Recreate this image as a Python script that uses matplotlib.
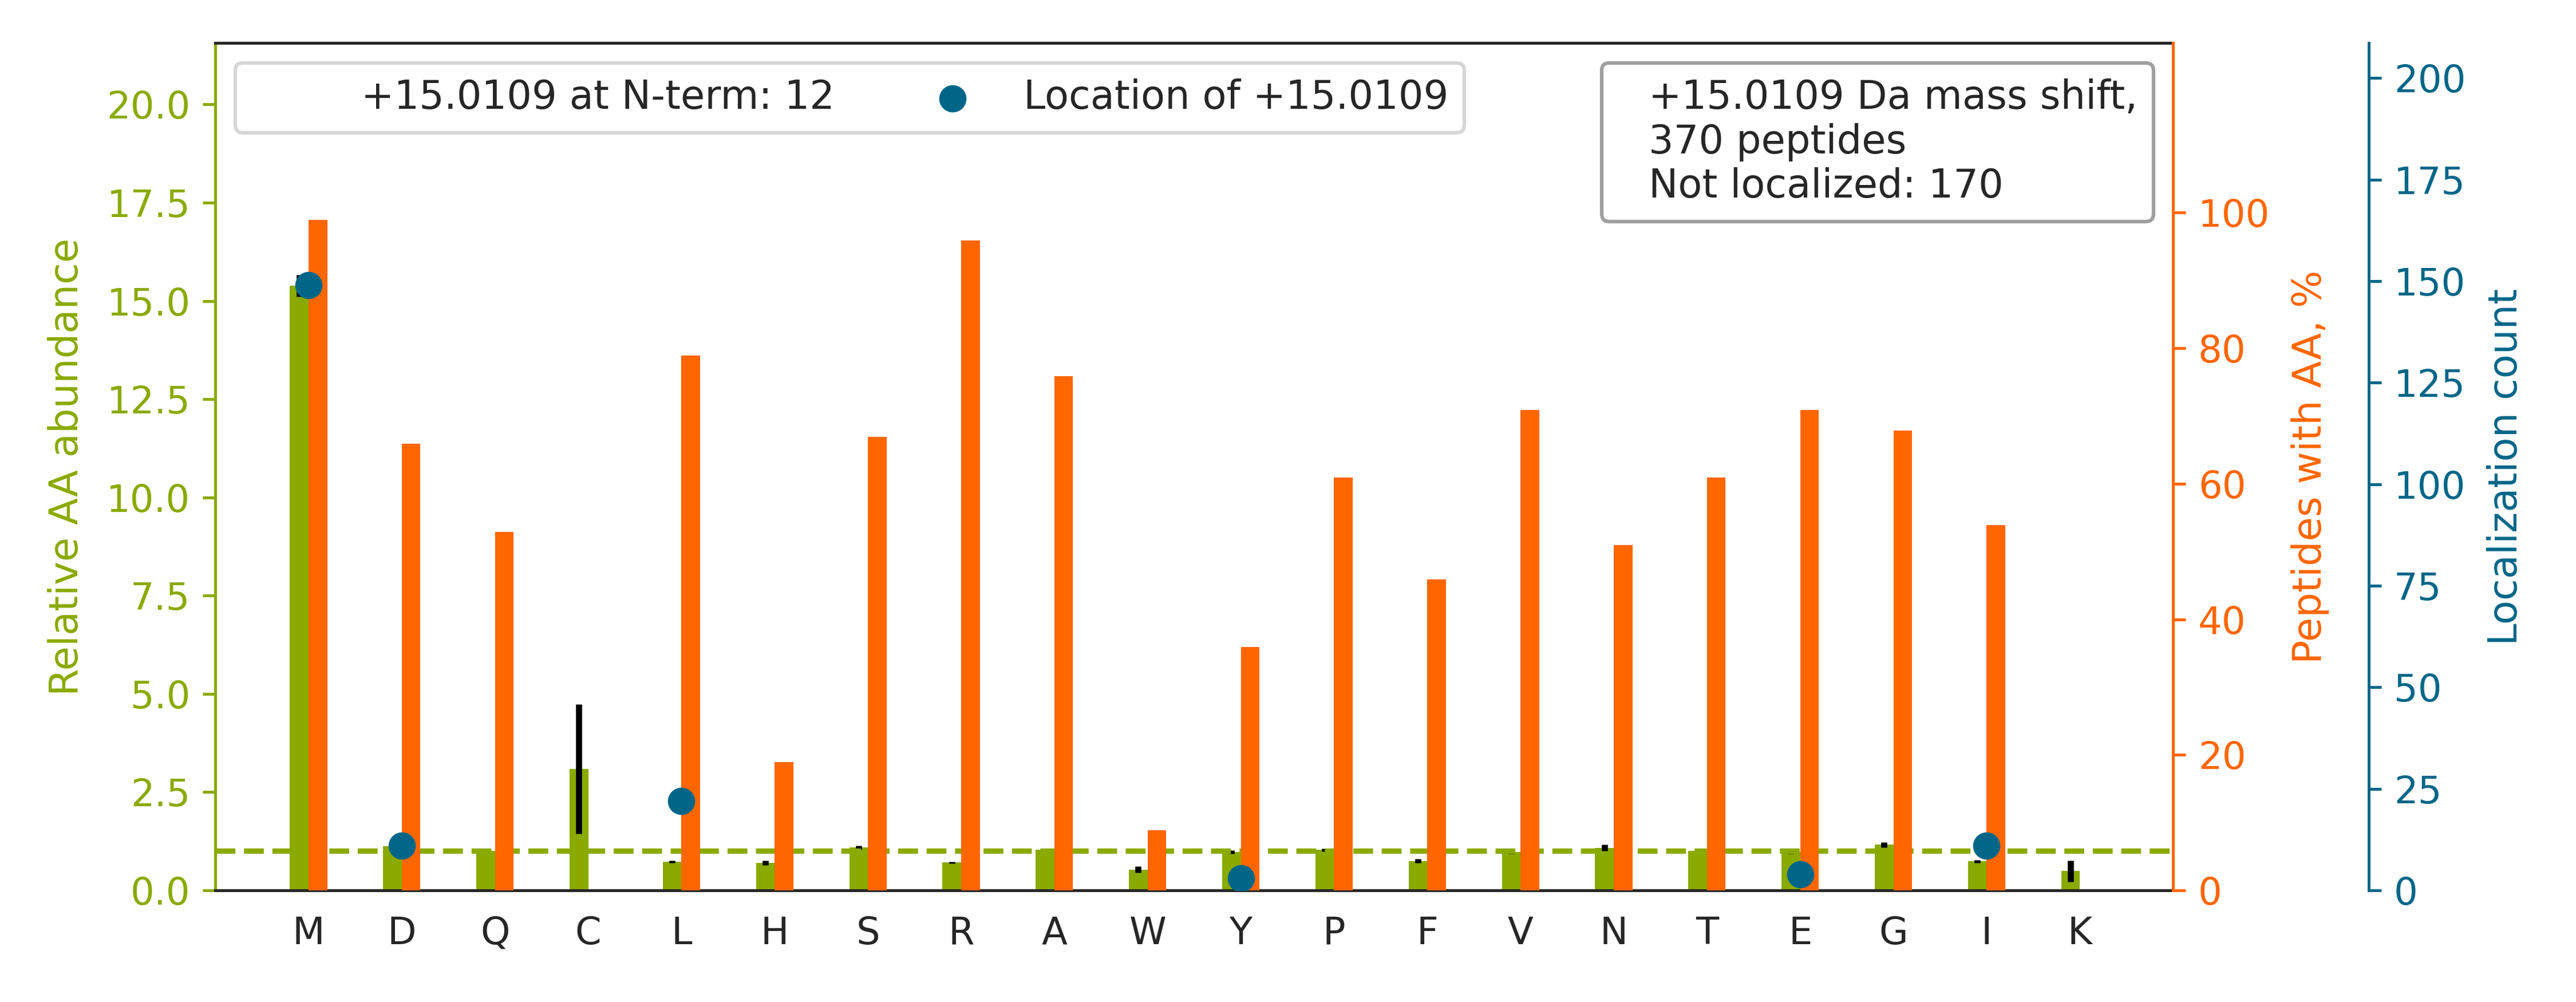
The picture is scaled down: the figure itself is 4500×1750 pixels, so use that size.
import matplotlib
matplotlib.use("Agg")
import matplotlib.pyplot as plt
import numpy as np
from matplotlib.lines import Line2D

# amino acids on the x axis
aa = ["M", "D", "Q", "C", "L", "H", "S", "R", "A", "W",
      "Y", "P", "F", "V", "N", "T", "E", "G", "I", "K"]

# relative AA abundance (green bars) and its error
rel_abund = [15.39, 1.12, 1.01, 3.09, 0.73, 0.70, 1.09, 0.71, 1.04, 0.53,
             0.98, 1.03, 0.75, 0.98, 1.08, 1.00, 0.97, 1.16, 0.74, 0.49]
rel_err = [0.28, 0.04, 0.04, 1.64, 0.03, 0.06, 0.05, 0.02, 0.01, 0.08,
           0.04, 0.04, 0.05, 0.05, 0.08, 0.05, 0.04, 0.06, 0.04, 0.27]

# peptides with AA, % (orange bars)
pept_pct = [98.9, 65.9, 52.9, 0.0, 78.9, 18.9, 66.9, 95.9, 75.9, 8.9,
            35.9, 60.9, 45.9, 70.9, 50.9, 60.9, 70.9, 67.8, 53.9, 0.0]

# localization counts (blue dots)
loc_aa = ["M", "D", "L", "Y", "E", "I"]
loc_counts = [149, 11, 22, 3, 4, 11]

green = "#8aaa00"
orange = "#ff6600"
blue = "#006688"
dark = "#262626"

plt.rcParams["font.family"] = "DejaVu Sans"
plt.rcParams["text.color"] = dark

fig, ax = plt.subplots(figsize=(10, 3.8889), dpi=450)
fig.subplots_adjust(left=0.0836, right=0.8436, bottom=0.1114, top=0.957)
ax2 = ax.twinx()
ax3 = ax.twinx()
ax3.spines["right"].set_position(("axes", 1.1))

x = np.arange(len(aa))

# green bars with error bars
ax.bar(x - 0.1, rel_abund, width=0.2, color=green, yerr=rel_err,
       error_kw=dict(ecolor="black", elinewidth=1.7, capsize=0))
ax.axhline(1, color=green, linestyle="--", linewidth=1.5)

# orange bars
ax2.bar(x + 0.1, pept_pct, width=0.2, color=orange)

# blue dots
loc_x = [aa.index(a) for a in loc_aa]
dots = ax3.scatter(loc_x, loc_counts, s=58, color=blue, linewidths=0, zorder=3)

ax.set_xlim(-1, 20)
ax.set_ylim(0, 21.56)
ax2.set_ylim(0, 125)
ax3.set_ylim(0, 208.6)

ax.set_xticks(x)
ax.set_xticklabels(aa)
ax.tick_params(axis="x", bottom=False, labelsize=10.5, labelcolor=dark)
ax.set_yticks(np.arange(0, 20.1, 2.5))
ax.tick_params(axis="y", colors=green, labelsize=10.5)
ax2.set_yticks(range(0, 101, 20))
ax2.tick_params(axis="y", colors=orange, labelsize=10.5)
ax3.set_yticks(range(0, 201, 25))
ax3.tick_params(axis="y", colors=blue, labelsize=10.5)

ax.set_ylabel("Relative AA abundance", color=green, fontsize=11, labelpad=5.8)
ax2.set_ylabel("Peptides with AA, %", color=orange, fontsize=11, labelpad=5.8)
ax3.set_ylabel("Localization count", color=blue, fontsize=11, labelpad=5.8)

# spines
ax.spines["left"].set_color(green)
ax.spines["top"].set_color(dark)
ax.spines["bottom"].set_color(dark)
ax.spines["right"].set_visible(False)
for a in (ax2, ax3):
    a.spines["left"].set_visible(False)
    a.spines["top"].set_visible(False)
    a.spines["bottom"].set_visible(False)
ax2.spines["right"].set_color(orange)
ax3.spines["right"].set_color(blue)

# legends
blank = Line2D([], [], color="none")
leg1 = ax3.legend([blank, dots],
                  ["+15.0109 at N-term: 12", "Location of +15.0109"],
                  loc="upper left", ncol=2, fontsize=11)
ax3.add_artist(leg1)
leg2 = ax3.legend([blank],
                  ["+15.0109 Da mass shift,\n370 peptides\nNot localized: 170"],
                  loc="upper right", handlelength=0, fontsize=11)
leg2.get_frame().set_edgecolor("0.53")

plt.savefig("out.png", dpi=450)
